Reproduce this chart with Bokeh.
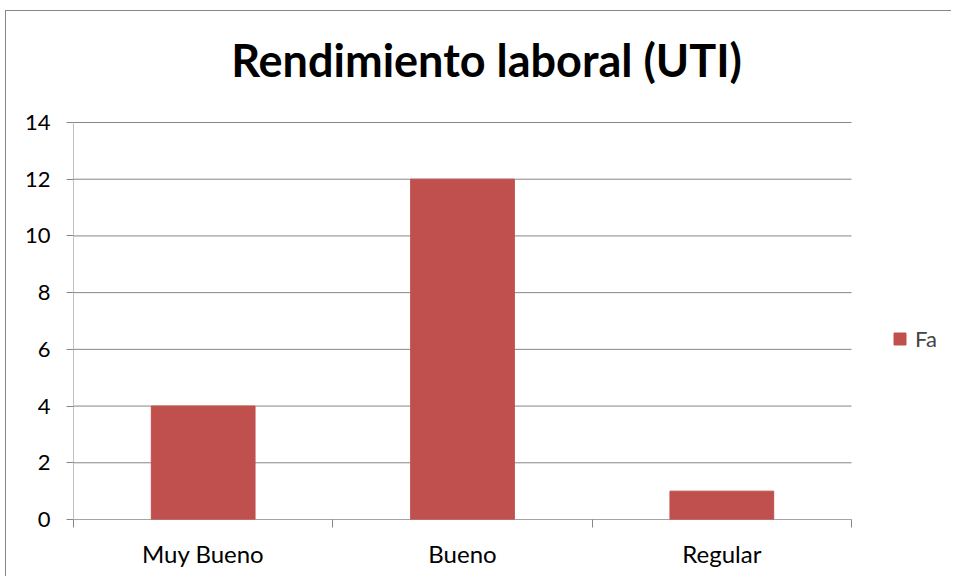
from bokeh.plotting import figure
from bokeh.models import Range1d, LinearAxis, FixedTicker, Label, ColumnDataSource
from bokeh.embed import file_html
from bokeh.resources import INLINE

categories = ["Muy Bueno", "Bueno", "Regular"]
fa_values = [4, 12, 1]
y_ticks = [0, 2, 4, 6, 8, 10, 12, 14]
series_name = "Fa"
title_text = "Rendimiento laboral (UTI)"

GREY = "#868686"
BAR = "#C0504D"
FONT = "Lato"

# canvas origin sits at screen (6, 11) after the margins/border below
W, H = 946, 566
FL, FT, FR, FB = 67, 111, 845, 508   # where the category/value area lies on the canvas

n = len(categories)
y_max = max(y_ticks)
x_centers = [i + 0.5 for i in range(n)]
x_bounds = list(range(n + 1))

# the frame fills the canvas to the right and top; the value area is scaled into it
x_end = n * (W - FL) / (FR - FL)
y_end = y_max * FB / (FB - FT)

p = figure(width=W, height=H, x_range=Range1d(0, x_end), y_range=Range1d(0, y_end),
           output_backend="svg", toolbar_location=None,
           x_axis_location=None, y_axis_location=None,
           min_border_left=FL, min_border_top=0,
           min_border_right=0, min_border_bottom=H - FB)
p.styles = {"border-left": f"1px solid {GREY}", "border-top": f"1px solid {GREY}",
            "margin-top": "10px", "margin-left": "5px"}
p.outline_line_color = None
p.background_fill_color = "white"
p.border_fill_color = "white"
p.xgrid.grid_line_color = None
p.ygrid.grid_line_color = None

# gridlines limited to the category span
grid_src = ColumnDataSource(dict(x0=[0] * len(y_ticks), x1=[n] * len(y_ticks),
                                 y=y_ticks))
p.segment(x0="x0", y0="y", x1="x1", y1="y", source=grid_src,
          line_color=GREY, line_width=1)
# axis lines
p.segment(x0=[0], y0=[0], x1=[0], y1=[y_max], line_color=GREY, line_width=1)
p.segment(x0=[0], y0=[0], x1=[n], y1=[0], line_color=GREY, line_width=1)

src = ColumnDataSource(dict(x=x_centers, cat=categories, val=fa_values))
p.vbar(x="x", top="val", width=0.4, source=src, color=BAR, legend_label=series_name)

# y axis
yax = LinearAxis(ticker=FixedTicker(ticks=y_ticks))
yax.axis_line_color = None
yax.major_tick_line_color = GREY
yax.major_tick_out = 7
yax.major_tick_in = 0
yax.minor_tick_line_color = None
yax.major_label_text_font = FONT
yax.major_label_text_font_size = "22px"
yax.major_label_text_color = "black"
yax.major_label_standoff = 16
p.add_layout(yax, "left")

# x axis: labels at category centres, ticks at category boundaries
xax = LinearAxis(ticker=FixedTicker(ticks=x_centers, minor_ticks=x_bounds))
xax.major_label_overrides = {x: c for x, c in zip(x_centers, categories)}
xax.axis_line_color = None
xax.major_tick_line_color = None
xax.major_tick_out = 0
xax.major_tick_in = 0
xax.minor_tick_line_color = GREY
xax.minor_tick_out = 8
xax.minor_tick_in = 0
xax.major_label_text_font = FONT
xax.major_label_text_font_size = "24px"
xax.major_label_text_color = "black"
xax.major_label_standoff = 11
p.add_layout(xax, "below")

# title (centre at canvas x 480, baseline at canvas y 48)
px_per_x = (FR - FL) / n
px_per_y = (FB - FT) / y_max
title = Label(x=(480 - FL) / px_per_x, y=(FB - 48) / px_per_y, text=title_text,
              text_font=FONT, text_font_style="bold", text_font_size="45px",
              text_align="center", text_baseline="alphabetic", text_color="black")
p.add_layout(title)

leg = p.legend[0]
leg.location = (886 - FL, 167)
leg.border_line_color = None
leg.background_fill_alpha = 0
leg.padding = 0
leg.margin = 0
leg.glyph_width = 15
leg.glyph_height = 15
leg.label_standoff = 8
leg.label_text_font = FONT
leg.label_text_font_size = "22px"
leg.label_height = 15

open("out.html", "w").write(file_html(p, INLINE))
